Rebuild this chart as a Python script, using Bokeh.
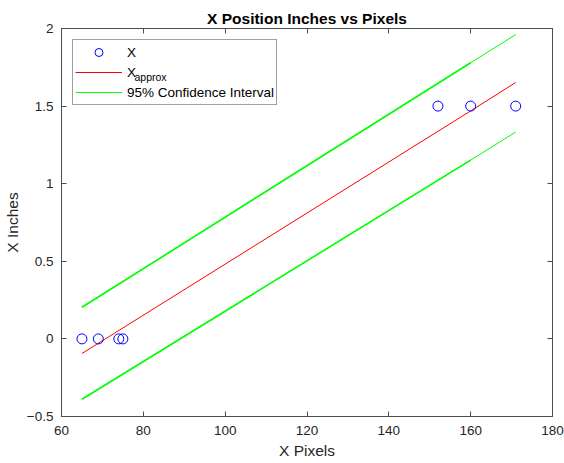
from bokeh.plotting import figure
from bokeh.models import Range1d, LinearAxis, Legend, LegendItem, Label, FixedTicker
from bokeh.embed import file_html
from bokeh.resources import INLINE

# data
x_pixels = [65, 69, 74, 75, 152, 160, 171]
x_inches = [0, 0, 0, 0, 1.5, 1.5, 1.5]
fit_x = [65, 160, 171]
fit_y = [-0.094, 1.469, 1.652]
ci_upper = [0.204, 1.779, 1.961]
ci_lower = [-0.389, 1.152, 1.333]
x_ticks = [60, 80, 100, 120, 140, 160, 180]
y_ticks = [-0.5, 0, 0.5, 1, 1.5, 2]

FONT = "Liberation Sans"
AX = "#4d4d4d"
TXT = "#262626"

p = figure(width=564, height=463, output_backend="svg", toolbar_location=None,
           x_range=Range1d(60, 180), y_range=Range1d(-0.5, 2),
           min_border_left=61, min_border_right=12, min_border_top=28, min_border_bottom=47,
           x_axis_location=None, y_axis_location=None)
p.grid.visible = False
p.outline_line_color = AX
p.outline_line_width = 1
p.background_fill_color = "white"

def mk_axis(ticks, labels=True, label=None):
    ax = LinearAxis(ticker=FixedTicker(ticks=ticks))
    ax.axis_line_color = AX
    ax.major_tick_line_color = AX
    ax.major_tick_in = 5
    ax.major_tick_out = 0
    ax.minor_tick_line_color = None
    ax.major_label_text_font = FONT
    ax.major_label_text_color = TXT
    if labels:
        ax.major_label_text_font_size = "13.5px"
    else:
        ax.major_label_text_font_size = "0px"
        ax.major_label_standoff = 0
        ax.major_label_overrides = {t: "" for t in ticks}
    if label:
        ax.axis_label = label
        ax.axis_label_text_font = FONT
        ax.axis_label_text_font_size = "15.5px"
        ax.axis_label_text_font_style = "normal"
        ax.axis_label_text_color = TXT
    return ax

xb = mk_axis(x_ticks, True, "X Pixels")
xb.major_label_standoff = 9
xb.axis_label_standoff = 4
yl = mk_axis(y_ticks, True, "X Inches")
yl.major_label_standoff = 8
yl.axis_label_standoff = 3
xt = mk_axis(x_ticks, False)
yr = mk_axis(y_ticks, False)
p.add_layout(xb, "below")
p.add_layout(yl, "left")
p.add_layout(xt, "above")
p.add_layout(yr, "right")

p.title.text = "X Position Inches vs Pixels"
p.title.align = "center"
p.title.text_font = FONT
p.title.text_font_size = "15.5px"
p.title.text_font_style = "bold"
p.title.text_color = "black"
p.title.standoff = 4

g_full = p.line(fit_x, ci_upper, line_color="#00ff00", line_width=1)
p.line(fit_x[:2], ci_upper[:2], line_color="#00ff00", line_width=1.6)
p.line(fit_x, ci_lower, line_color="#00ff00", line_width=1)
p.line(fit_x[:2], ci_lower[:2], line_color="#00ff00", line_width=1.6)
red = p.line(fit_x, fit_y, line_color="#ff0000", line_width=1)
circ = p.scatter(x_pixels, x_inches, marker="circle", size=10, fill_color=None,
                 line_color="#0000ff", line_width=1)

legend = Legend(items=[
    LegendItem(label="X", renderers=[circ]),
    LegendItem(label="X", renderers=[red]),
    LegendItem(label="95% Confidence Interval", renderers=[g_full]),
], location="top_left")
legend.margin = 11
legend.padding = 2
legend.spacing = 0
legend.glyph_width = 47
legend.glyph_height = 20
legend.label_height = 20
legend.label_standoff = 5
legend.label_text_font = FONT
legend.label_text_font_size = "13.5px"
legend.label_text_color = "black"
legend.border_line_color = "#404040"
legend.border_line_width = 1
legend.background_fill_alpha = 0
p.add_layout(legend, "center")

sub = Label(x=73, y=340, x_units="screen", y_units="screen", text="approx",
            text_font=FONT, text_font_size="10.5px", text_color="black",
            text_baseline="alphabetic", level="overlay")
p.add_layout(sub)

open("out.html", "w").write(file_html(p, INLINE))
